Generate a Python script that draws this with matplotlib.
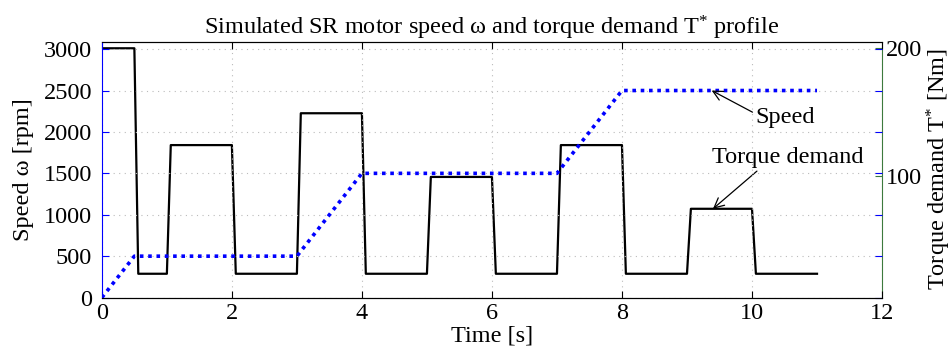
import matplotlib
matplotlib.use("Agg")
import matplotlib.pyplot as plt

# speed profile [rpm]
speed_t = [0, 0.5, 3, 4, 7, 8, 11]
speed_w = [0, 500, 500, 1500, 1500, 2500, 2500]

# torque demand steps [Nm]
switch_t = [0.5, 1, 2, 3, 4, 5, 6, 7, 8, 9, 10]
torque_lvl = [200, 23, 124, 23, 149, 23, 99, 23, 124, 23, 74, 23]
t_end = 11
ramp = 0.06

torque_t = [0]
torque_v = [torque_lvl[0]]
for i, ts in enumerate(switch_t):
    torque_t += [ts, ts + ramp]
    torque_v += [torque_lvl[i], torque_lvl[i + 1]]
torque_t.append(t_end)
torque_v.append(torque_lvl[-1])

plt.rcParams['font.family'] = ['Liberation Serif', 'DejaVu Serif']
plt.rcParams['mathtext.fontset'] = 'custom'
plt.rcParams['mathtext.rm'] = 'Liberation Serif'
plt.rcParams['mathtext.it'] = 'Liberation Serif'
fs = 17.5

fig = plt.figure(figsize=(9.52, 3.53), dpi=100)
ax1 = fig.add_axes([0.107, 0.157, 0.8195, 0.725])
ax2 = ax1.twinx()
ax1.set_zorder(ax2.get_zorder() + 1)
ax1.patch.set_visible(False)

green = '#3d7a3d'

ax2.plot(torque_t, torque_v, color='black', lw=1.6)
ax2.set_ylim(4.3, 205.2)
ax2.set_yticks([100, 200])
ax2.tick_params(axis='y', direction='in', color=green, length=5, labelsize=fs, pad=3)
ax2.spines['right'].set_color(green)
ax2.spines['left'].set_visible(False)
ax2.set_ylabel('Torque demand T$^{*}$ [Nm]', fontsize=fs, labelpad=2)

ax1.plot(speed_t, speed_w, color='blue', lw=2.6, linestyle=(0, (1.0, 1.3)))
ax1.set_xlim(0, 12)
ax1.set_ylim(0, 3090)
ax1.set_xticks(range(0, 13, 2))
ax1.set_yticks(range(0, 3001, 500))
ax1.tick_params(axis='y', direction='in', color='blue', length=5, right=True, labelsize=fs, pad=7)
ax1.tick_params(axis='x', direction='in', length=5, top=True, labelsize=fs, pad=4)
ax1.spines['left'].set_color('blue')
ax1.spines['right'].set_visible(False)
ax1.grid(True, linestyle=(0, (1, 4)), color='#bbbbbb', lw=0.8)
ax1.set_xlabel('Time [s]', fontsize=fs, labelpad=1)
ax1.set_ylabel('Speed ω [rpm]', fontsize=fs, labelpad=7)
ax1.set_title('Simulated SR motor speed ω and torque demand T$^{*}$ profile', fontsize=fs, pad=5)

ax1.annotate('Speed', xy=(9.38, 2500), xytext=(10.05, 2170),
             fontsize=fs, va='center', ha='left',
             arrowprops=dict(arrowstyle='->', color='black', lw=0.9, shrinkA=0, shrinkB=0,
                             relpos=(0.0, 0.7)))
ax2.annotate('Torque demand', xy=(9.4, 74), xytext=(9.38, 114),
             fontsize=fs, va='center', ha='left',
             arrowprops=dict(arrowstyle='->', color='black', lw=0.9, shrinkA=0, shrinkB=0,
                             relpos=(0.32, 0.0)))

fig.savefig('out.png', dpi=100)
